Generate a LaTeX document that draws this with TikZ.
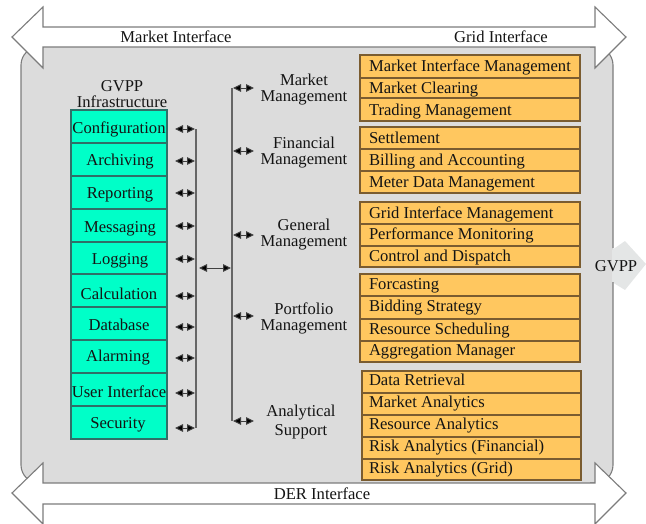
\documentclass[tikz,border=0pt]{standalone}
\usepackage{fontspec}
\setmainfont{Liberation Serif}
\usetikzlibrary{arrows.meta}
\definecolor{panelgrey}{HTML}{DCDCDC}
\definecolor{edgegrey}{HTML}{7C7C7C}
\definecolor{tealfill}{HTML}{00FFC8}
\definecolor{tealedge}{HTML}{2F7068}
\definecolor{orangefill}{HTML}{FFC75F}
\definecolor{orangeedge}{HTML}{7A5C30}
\definecolor{gvppgrey}{HTML}{E4E6E6}
\tikzset{
  every node/.style={font=\fontsize{16.6}{16}\selectfont, inner sep=0pt, outer sep=0pt, text=black!92},
  bigarrow/.style={draw=edgegrey, fill=white, line width=1.1pt, line join=miter},
  tealcell/.style={draw=tealedge, fill=tealfill, line width=1.3pt, minimum width=96pt, anchor=center},
  orangecell/.style={draw=orangeedge, fill=orangefill, line width=1.3pt, anchor=center},
  caption/.style={anchor=base},
  rowtext/.style={anchor=base west},
  grouplabel/.style={align=center, anchor=center},
  bus/.style={draw=black!60, line width=1.3pt},
  linkarrow/.style={draw=black!75, line width=1pt, {Triangle[length=8pt,width=7.5pt,fill=black]}-{Triangle[length=8pt,width=7.5pt,fill=black]}},
}
\newcommand{\tcell}[6]{% name top bottom textx texty text
  \node[tealcell, minimum height={(#3-#2)*1pt}] (#1) at (119,{(#2+#3)/2}) {};
  \node[caption] (#1t) at (#4,#5+5.5) {#6};
}
\newcommand{\ocell}[7]{% name left right top bottom texty text
  \node[orangecell, minimum width={(#3-#2)*1pt}, minimum height={(#5-#4)*1pt}] (#1) at ({(#2+#3)/2},{(#4+#5)/2}) {};
  \node[rowtext] (#1t) at (369,#6+5.5) {#7};
}
\newcommand{\leftlink}[2]{%
  \coordinate (la#1) at (175,#2);
  \coordinate (lb#1) at (195,#2);
  \draw[linkarrow] (la#1) -- (lb#1);
}
\newcommand{\rightlink}[2]{%
  \coordinate (ra#1) at (233,#2);
  \coordinate (rb#1) at (254,#2);
  \draw[linkarrow] (ra#1) -- (rb#1);
}
\begin{document}
\begin{tikzpicture}[x=1pt,y=-1pt]
\useasboundingbox (0,0) rectangle (646,523);
% panel
\fill[panelgrey, rounded corners=18pt] (21,47) rectangle (613,483);
\fill[gvppgrey] (612,250) -- (625,241) -- (646,264) -- (625,290) -- (612,282) -- cycle;
\draw[edgegrey, line width=1.1pt, rounded corners=18pt] (40,47) -- (21,47) -- (21,483) -- (40,483);
\draw[edgegrey, line width=1.1pt, rounded corners=18pt] (613,248) -- (613,47) -- (590,47);
\draw[edgegrey, line width=1.1pt, rounded corners=18pt] (613,282) -- (613,483) -- (590,483);
% interface arrows
\draw[bigarrow] (12,37) -- (43,7) -- (43,27) -- (595,27) -- (595,7) -- (626,37) -- (595,68) -- (595,47) -- (43,47) -- (43,68) -- cycle;
\begin{scope}
\clip (0,0) rectangle (646,523);
\draw[bigarrow] (12,493) -- (43,463) -- (43,483) -- (595,483) -- (595,463) -- (626,493) -- (595,524) -- (595,504) -- (43,504) -- (43,524) -- cycle;
\end{scope}
\node[caption] (mi) at (176,42.5) {Market Interface};
\node[caption] (gi) at (501,42.5) {Grid Interface};
\node[caption] (der) at (322,499.5) {DER Interface};
\node[caption] (gvpp) at (616,271.5) {GVPP};
% infrastructure
\node[grouplabel] (infra) at (122,94) {GVPP\\Infrastructure};
\tcell{c1}{110}{143}{119}{128}{Configuration}
\tcell{c2}{143}{176}{120}{160}{Archiving}
\tcell{c3}{176}{209}{120}{193}{Reporting}
\tcell{c4}{209}{242}{120}{227}{Messaging}
\tcell{c5}{242}{274}{120}{259}{Logging}
\tcell{c6}{274}{307}{119}{294}{Calculation}
\tcell{c7}{307}{340}{119}{325}{Database}
\tcell{c8}{340}{373}{118}{356}{Alarming}
\tcell{c9}{373}{406}{119}{392}{User Interface}
\tcell{c10}{406}{439}{118}{423}{Security}
% links
\coordinate (busAtop) at (196,129);
\coordinate (busAbot) at (196,428);
\coordinate (busBtop) at (232,88);
\coordinate (busBbot) at (232,421);
\draw[bus] (busAtop) -- (busAbot);
\draw[bus] (busBtop) -- (busBbot);
\leftlink{1}{129}
\leftlink{2}{161}
\leftlink{3}{193}
\leftlink{4}{226}
\leftlink{5}{259}
\leftlink{6}{296}
\leftlink{7}{327}
\leftlink{8}{358}
\leftlink{9}{393}
\leftlink{10}{428}
\rightlink{1}{88}
\rightlink{2}{151}
\rightlink{3}{235}
\rightlink{4}{316}
\rightlink{5}{421}
\coordinate (ma) at (199,268);
\coordinate (mb) at (231,268);
\draw[linkarrow] (ma) -- (mb);
% group labels
\node[grouplabel] (g1) at (304,90) {Market\\Management};
\node[grouplabel] (g2) at (304,153) {Financial\\Management};
\node[grouplabel] (g3) at (304,235) {General\\Management};
\node[grouplabel] (g4) at (304,318) {Portfolio\\Management};
\node[grouplabel] (g5) at (301,422.5) {Analytical\\[3pt]Support};
% orange rows
\ocell{a1}{360}{580}{55}{78}{66}{Market Interface Management}
\ocell{a2}{360}{580}{78}{98}{88}{Market Clearing}
\ocell{a3}{360}{580}{98}{121}{110}{Trading Management}
\ocell{b1}{360}{580}{127}{149}{138}{Settlement}
\ocell{b2}{360}{580}{149}{171}{160}{Billing and Accounting}
\ocell{b3}{360}{580}{171}{193}{182}{Meter Data Management}
\ocell{d1}{360}{580}{202}{224}{213}{Grid Interface Management}
\ocell{d2}{360}{580}{224}{246}{234}{Performance Monitoring}
\ocell{d3}{360}{580}{246}{267}{256}{Control and Dispatch}
\ocell{e1}{360}{580}{274}{296}{284}{Forcasting}
\ocell{e2}{360}{580}{296}{319}{306}{Bidding Strategy}
\ocell{e3}{360}{580}{319}{341}{329}{Resource Scheduling}
\ocell{e4}{360}{580}{341}{362}{350}{Aggregation Manager}
\ocell{f1}{362}{581}{371}{393}{380}{Data Retrieval}
\ocell{f2}{362}{581}{393}{415}{402}{Market Analytics}
\ocell{f3}{362}{581}{415}{437}{424}{Resource Analytics}
\ocell{f4}{362}{581}{437}{459}{446}{Risk Analytics (Financial)}
\ocell{f5}{362}{581}{459}{480}{468}{Risk Analytics (Grid)}
\end{tikzpicture}
\end{document}
